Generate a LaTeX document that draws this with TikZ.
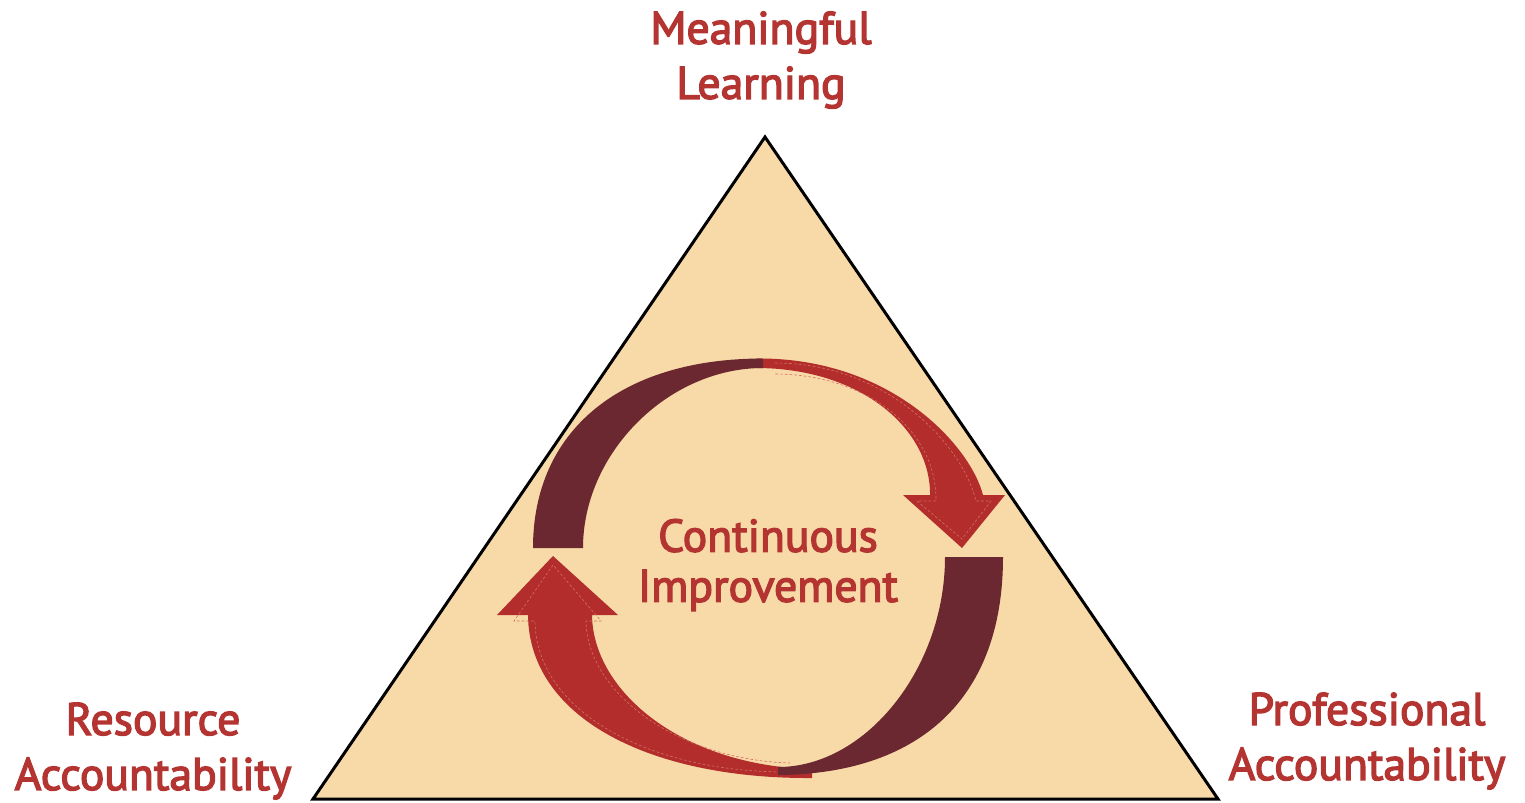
\documentclass[tikz,border=0pt]{standalone}
\usepackage{fontspec}
\newfontfamily\labfont{PT Sans}[FakeBold=3]
\definecolor{beige}{RGB}{248,218,168}
\definecolor{arrowred}{RGB}{178,45,43}
\definecolor{darkwine}{RGB}{107,40,48}
\definecolor{textred}{RGB}{180,52,50}
\definecolor{seam}{RGB}{212,110,100}
\tikzset{
  lab/.style={font=\labfont\fontsize{26}{31.3}\selectfont, text=textred, align=center, inner sep=0pt},
  redarrow/.style={fill=arrowred, draw=none},
  darkarc/.style={fill=darkwine, draw=none},
  seamline/.style={draw=seam, line width=0.35pt, dash pattern=on 1.5pt off 1.2pt},
}
\begin{document}
\begin{tikzpicture}[x=0.02cm, y=-0.02cm]
\useasboundingbox (0,0) rectangle (1525,802);
% triangle
\coordinate (apex) at (765,137);
\coordinate (bl) at (313,799);
\coordinate (br) at (1218,799);
\filldraw[fill=beige, draw=black, line width=1.7pt, line join=miter] (apex) -- (br) -- (bl) -- cycle;

% lower red arrow (pointing up, left side)
\fill[redarrow] (812,778) .. controls (650,779) and (529,718) .. (528,615)
  -- (497,615) -- (553,556) -- (618,615) -- (592,615)
  .. controls (593,692) and (683,766) .. (812,769) -- cycle;
\draw[seamline] (790,772) .. controls (650,773) and (536,712) .. (535,621)
  -- (514,621) -- (553,565) -- (601,621) -- (586,621)
  .. controls (587,694) and (680,760) .. (790,763);
% lower-right dark arc
\fill[darkarc] (1003,557) .. controls (1003,703) and (915,774) .. (778,775)
  -- (778,767) .. controls (866,767) and (945,668) .. (945,557) -- cycle;
% upper red arrow (pointing down, right side)
\fill[redarrow] (756,358.5) .. controls (890,357) and (970,445) .. (983,495)
  -- (1005,495) -- (962,548) -- (903,495) -- (930,495)
  .. controls (931,430) and (862,368) .. (756,368) -- cycle;
\draw[seamline] (775,363) .. controls (888,363) and (963,446) .. (976,501)
  -- (991,501) -- (962,539) -- (917,501) -- (936,501)
  .. controls (937,428) and (864,374) .. (775,374);
% upper-left dark arc
\fill[darkarc] (533,548) .. controls (533,431) and (620,358.5) .. (763,358.5)
  -- (763,368) .. controls (668,368) and (583,453) .. (583,548) -- cycle;

% labels
\node[lab] (ml) at (761,60) {Meaningful\\Learning};
\node[lab] (ra) at (153,751) {Resource\\Accountability};
\node[lab] (pa) at (1367,741) {Professional\\Accountability};
\node[lab, font=\labfont\fontsize{26}{28.5}\selectfont] (ci) at (768,565) {Continuous\\Improvement};
\end{tikzpicture}
\end{document}
